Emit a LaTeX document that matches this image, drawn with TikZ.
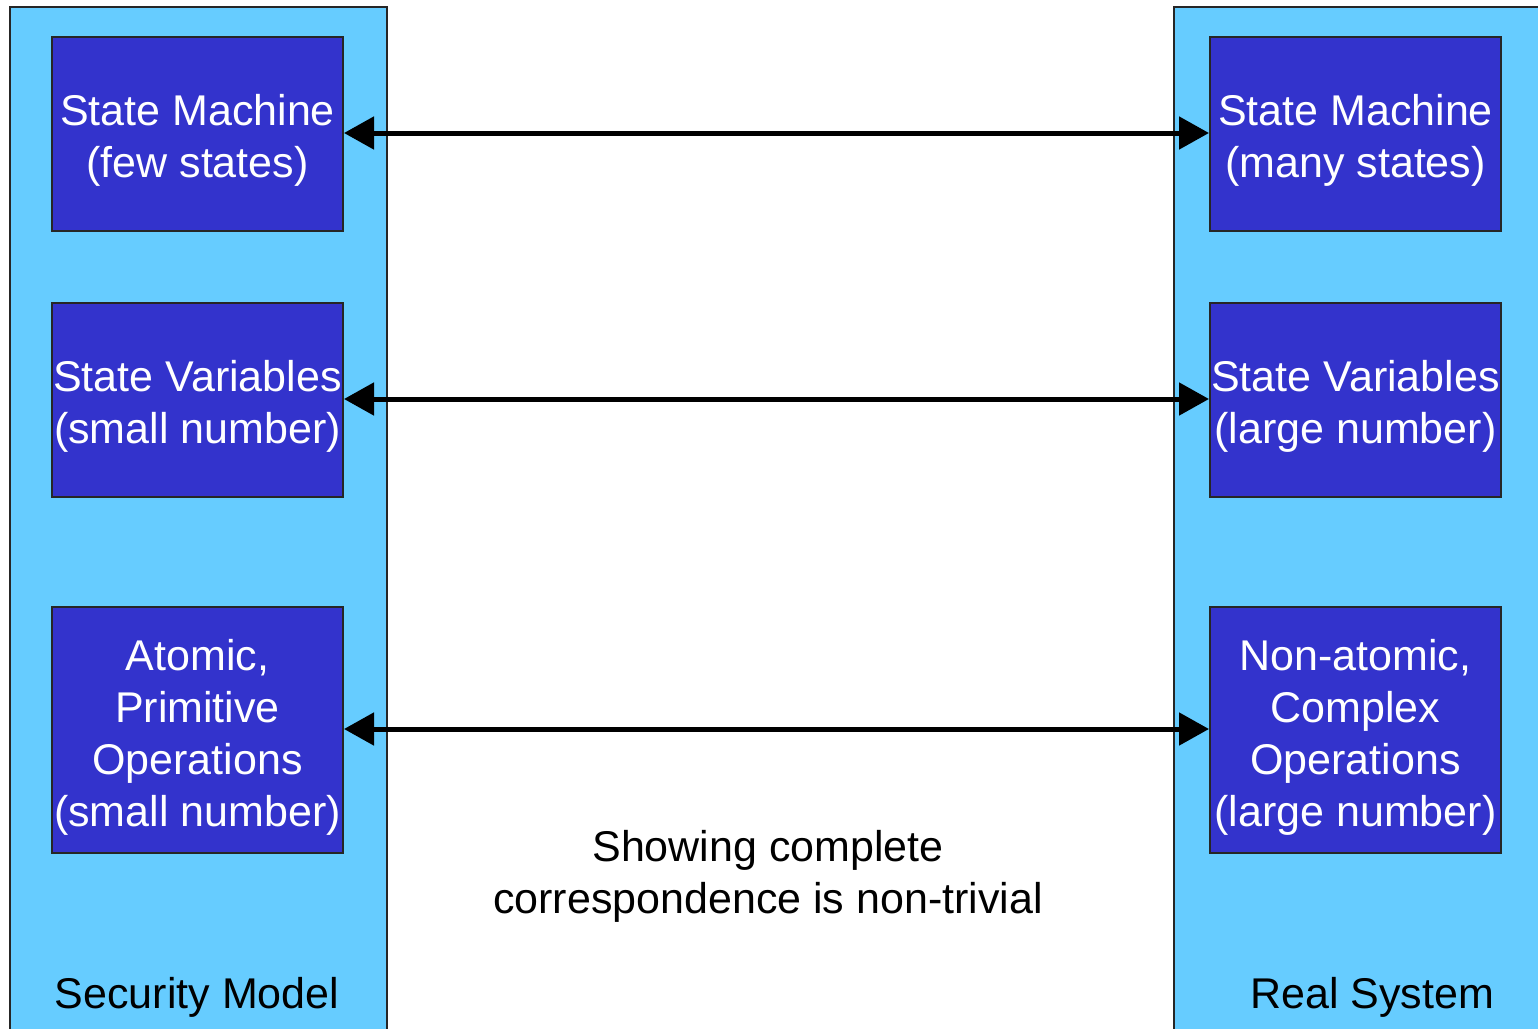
\documentclass[tikz,border=0pt]{standalone}
\usepackage{fontspec}
\setmainfont{Liberation Sans}
\usetikzlibrary{arrows.meta}
\definecolor{panelblue}{HTML}{66CCFF}
\definecolor{boxblue}{HTML}{3333CC}
\tikzset{
  panel/.style={draw=black!85, line width=1.5pt, fill=panelblue},
  bluebox/.style={draw=black!85, line width=1.5pt, fill=boxblue, minimum width=291pt, inner sep=0pt, outer sep=0pt, anchor=north west},
  boxtext/.style={text=white, font=\fontsize{43}{52}\selectfont, align=center, inner sep=0pt},
  plaintext/.style={text=black, font=\fontsize{43}{52}\selectfont, align=center, inner sep=0pt},
  corr/.style={line width=5pt, {Triangle[length=30pt,width=32pt]}-{Triangle[length=30pt,width=32pt]}, shorten <=1pt, shorten >=1pt}
}
\begin{document}
\begin{tikzpicture}[x=1pt,y=-1pt]
\useasboundingbox (0,0) rectangle (1538,1028);
\clip (0,0) rectangle (1538,1028);
\fill[white] (0,0) rectangle (1538,1028);
% panels
\draw[panel] (10,7) rectangle (387,1045);
\draw[panel] (1174,7) rectangle (1550,1045);
% left boxes
\node[bluebox, minimum height=194pt] (l1) at (52,37) {};
\node[bluebox, minimum height=194pt] (l2) at (52,303) {};
\node[bluebox, minimum height=246pt] (l3) at (52,607) {};
% right boxes
\node[bluebox, minimum height=194pt] (r1) at (1210,37) {};
\node[bluebox, minimum height=194pt] (r2) at (1210,303) {};
\node[bluebox, minimum height=246pt] (r3) at (1210,607) {};
% texts
\node[boxtext] (t1) at ([yshift=-6pt]l1.center) {State Machine\\(few states)};
\node[boxtext] (t2) at ([yshift=-6pt]l2.center) {State Variables\\(small number)};
\node[boxtext] (t3) at ([yshift=-7pt]l3.center) {Atomic,\\Primitive\\Operations\\(small number)};
\node[boxtext] (t4) at ([yshift=-6pt]r1.center) {State Machine\\(many states)};
\node[boxtext] (t5) at ([yshift=-6pt]r2.center) {State Variables\\(large number)};
\node[boxtext] (t6) at ([yshift=-7pt]r3.center) {Non-atomic,\\Complex\\Operations\\(large number)};
% arrows
\draw[corr] ([yshift=1pt]l1.east) -- ([yshift=1pt]r1.west);
\draw[corr] ([yshift=1pt]l2.east) -- ([yshift=1pt]r2.west);
\draw[corr] ([yshift=1pt]l3.east) -- ([yshift=1pt]r3.west);
% labels
\node[plaintext] (m) at (768,876) {Showing complete\\correspondence is non-trivial};
\node[plaintext] (sm) at (197,997) {Security Model};
\node[plaintext] (rs) at (1372,997) {Real System};
\end{tikzpicture}
\end{document}
